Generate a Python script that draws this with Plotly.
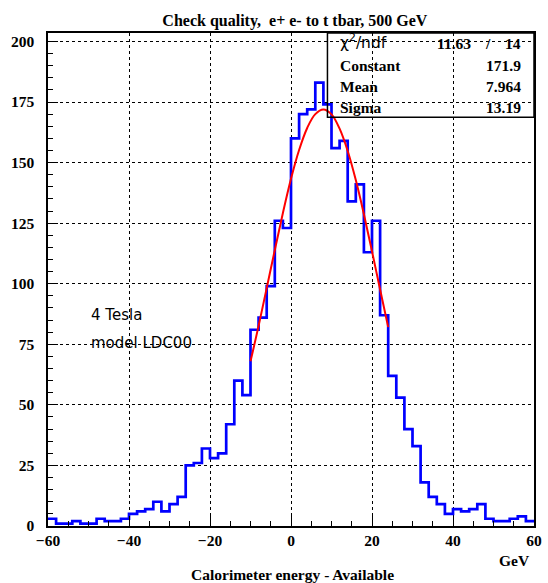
import plotly.graph_objects as go

# Histogram: 60 bins of 2 GeV from -60 to 60
bin_low = -60
bin_width = 2
counts = [3, 1, 1, 2, 1, 1, 3, 2, 2, 3,
          5, 6, 7, 10, 6, 9, 12, 25, 26, 32,
          28, 30, 42, 60, 54, 81, 86, 99, 126, 123,
          160, 170, 172, 183, 174, 156, 159, 134, 141, 113,
          126, 87, 62, 53, 40, 33, 18, 12, 9, 5,
          7, 6, 7, 9, 3, 2, 2, 3, 4, 2]

# Gaussian fit curve
fit_x = [-10, -8, -6, -4, -2, 0, 2, 4, 6, 8, 10, 12, 14, 16, 18, 20, 22, 24]
fit_y = [68.0, 82.6, 98.2, 113.9, 129.2, 143.3, 155.2, 164.3, 170.0, 171.9,
         169.9, 164.0, 154.8, 142.8, 128.7, 113.4, 97.6, 82.1]

stats_labels = ["Constant", "Mean", "Sigma"]
stats_values = ["171.9", "7.964", "13.19"]
chi2_value = "11.63"
ndf_value = "14"

title_text = "Check quality,\u00a0 e+ e- to t tbar, 500 GeV"
x_title = "Calorimeter energy - Available"
x_unit = "GeV"
notes = ["4 Tesla", "model LDC00"]

edges = [bin_low + i * bin_width for i in range(len(counts) + 1)]
step_y = counts + [counts[-1]]

SERIF = "Liberation Serif"
SANS = "DejaVu Sans"

fig = go.Figure()
fig.add_trace(go.Scatter(x=edges, y=step_y, mode="lines", line_shape="hv",
                         line=dict(color="#0000ff", width=2.7), hoverinfo="skip",
                         showlegend=False))
fig.add_trace(go.Scatter(x=fit_x, y=fit_y, mode="lines", line_shape="spline",
                         line=dict(color="#ff0000", width=2), hoverinfo="skip",
                         showlegend=False))

axis_common = dict(
    showline=True, linecolor="black", linewidth=1.5, mirror=True,
    ticks="inside", tickcolor="black", ticklen=10, tickwidth=1,
    showgrid=True, gridcolor="black", griddash="dot", gridwidth=1,
    zeroline=False,
    tickfont=dict(family=SERIF, size=15.5, color="black", weight="bold"),
)

fig.update_xaxes(range=[-60, 60], tick0=-60, dtick=20,
                 minor=dict(dtick=5, ticks="inside", ticklen=5, tickcolor="black", showgrid=False),
                 **axis_common)
fig.update_yaxes(range=[0, 203.5], tick0=0, dtick=25,
                 minor=dict(dtick=5, ticks="inside", ticklen=5, tickcolor="black", showgrid=False),
                 ticklabelstandoff=9,
                 **axis_common)

# stats box
fig.add_shape(type="rect", xref="paper", yref="paper", x0=0.575, x1=1.0, y0=0.829, y1=1.0,
              line=dict(color="black", width=1.5), fillcolor="rgba(0,0,0,0)")

ann = []
row_y = [0.934, 0.892, 0.849]
font_b = dict(family=SERIF, size=15.5, color="black", weight="bold")
ann.append(dict(x=0.596, y=0.983, xref="paper", yref="paper", xanchor="left", yanchor="middle",
                text="χ<sup>2</sup>/ndf", showarrow=False,
                font=dict(family=SANS, size=15.5, color="black")))
ann.append(dict(x=0.875, y=0.978, xref="paper", yref="paper", xanchor="right", yanchor="middle",
                text=chi2_value, showarrow=False, font=font_b))
ann.append(dict(x=0.905, y=0.978, xref="paper", yref="paper", xanchor="center", yanchor="middle",
                text="/", showarrow=False, font=font_b))
ann.append(dict(x=0.978, y=0.978, xref="paper", yref="paper", xanchor="right", yanchor="middle",
                text=ndf_value, showarrow=False, font=font_b))
for lab, val, yy in zip(stats_labels, stats_values, row_y):
    ann.append(dict(x=0.596, y=yy, xref="paper", yref="paper", xanchor="left", yanchor="middle",
                    text=lab, showarrow=False, font=font_b))
    ann.append(dict(x=0.978, y=yy, xref="paper", yref="paper", xanchor="right", yanchor="middle",
                    text=val, showarrow=False, font=font_b))

# notes
for txt, yy in zip(notes, [0.4276, 0.3714]):
    ann.append(dict(x=0.084, y=yy, xref="paper", yref="paper", xanchor="left", yanchor="middle",
                    text=txt, showarrow=False, font=dict(family=SANS, size=15, color="black")))

# axis titles
ann.append(dict(x=1.0, y=0, xref="paper", yref="paper", xanchor="right", yanchor="middle",
                xshift=-2, yshift=-34, text=x_unit, showarrow=False, font=font_b))
ann.append(dict(x=0.5025, y=0, xref="paper", yref="paper", xanchor="center", yanchor="middle",
                yshift=-48, text=x_title, showarrow=False,
                font=dict(family=SERIF, size=15.5, color="black", weight="bold")))

fig.update_layout(
    width=548, height=583,
    margin=dict(l=47.5, r=6, t=32.5, b=57),
    paper_bgcolor="white", plot_bgcolor="white",
    title=dict(text=title_text, x=0.538, xanchor="center", y=1 - 20 / 583, yanchor="middle",
               font=dict(family=SERIF, size=16, color="black", weight="bold")),
    annotations=ann,
    showlegend=False,
)

fig.write_html("out.html", config={"displayModeBar": False},
               post_script="document.body.style.margin='0';")
